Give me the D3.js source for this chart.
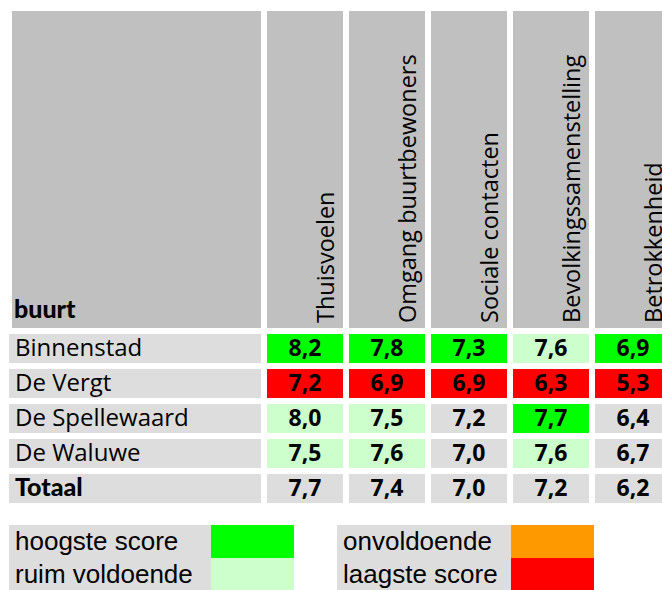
<!DOCTYPE html>
<meta charset="utf-8">
<script src="https://d3js.org/d3.v7.min.js"></script>
<style>
  body { margin: 0; background: #fff; }
  text { font-family: "Open Sans", sans-serif; fill: #000; }
  .vet { font-family: Lato, "Open Sans", sans-serif; font-weight: 900; }
  .legend text { font-family: "Liberation Sans", Arial, sans-serif; }
</style>
<div id="my_dataviz"></div>
<script>
// data
var buurten = ["Binnenstad", "De Vergt", "De Spellewaard", "De Waluwe", "Totaal"];
var thema = ["Thuisvoelen", "Omgang buurtbewoners", "Sociale contacten", "Bevolkingssamenstelling", "Betrokkenheid"];
var scores = [
  [8.2, 7.8, 7.3, 7.6, 6.9],
  [7.2, 6.9, 6.9, 6.3, 5.3],
  [8.0, 7.5, 7.2, 7.7, 6.4],
  [7.5, 7.6, 7.0, 7.6, 6.7],
  [7.7, 7.4, 7.0, 7.2, 6.2]
];
var legendaLinks = ["hoogste score", "ruim voldoende"];
var legendaRechts = ["onvoldoende", "laagste score"];

var kleur = {
  hoog: "#00ff00", ruim: "#ccffcc", onv: "#ff9900", laag: "#ff0000", neutraal: "#dddddd"
};
var legendaKleuren = [kleur.hoog, kleur.ruim, kleur.onv, kleur.laag];

var width = 662, height = 590;

var svg = d3.select("#my_dataviz")
  .append("svg")
    .attr("width", width)
    .attr("height", height);

// scales
var x = d3.scaleBand()
  .domain(thema)
  .range([267, 267 + 82 * thema.length - 6])
  .paddingInner(6 / 82);

var y = d3.scaleBand()
  .domain(buurten)
  .range([334, 334 + 35 * buurten.length - 6])
  .paddingInner(6 / 35);

// class of a cell: max/min per column over the neighbourhoods (not Totaal)
function klasse(r, c) {
  if (buurten[r] === "Totaal") return "neutraal";
  var kol = scores.slice(0, buurten.length - 1).map(function(d) { return d[c]; });
  var v = scores[r][c];
  if (v === d3.max(kol)) return "hoog";
  if (v === d3.min(kol)) return "laag";
  if (v < 5.5) return "onv";
  if (v >= 7.5) return "ruim";
  return "neutraal";
}

// header
svg.append("rect")
  .attr("x", 12).attr("y", 11)
  .attr("width", 249).attr("height", 317)
  .attr("fill", "#c0c0c0");
svg.append("text")
  .attr("class", "vet")
  .attr("x", 14).attr("y", 318)
  .attr("font-size", 25)
  .text("buurt");

var kop = svg.append("g").selectAll("g")
  .data(thema)
  .enter().append("g");
kop.append("rect")
  .attr("x", function(d) { return x(d); })
  .attr("y", 11)
  .attr("width", x.bandwidth())
  .attr("height", 317)
  .attr("fill", "#c0c0c0");
kop.append("text")
  .attr("transform", function(d) {
    return "translate(" + (x(d) + x.bandwidth() - 9) + ",323) rotate(-90)";
  })
  .attr("font-size", 23.5)
  .text(function(d) { return d; });

// rows
var rij = svg.append("g").selectAll("g")
  .data(buurten)
  .enter().append("g");
rij.append("rect")
  .attr("x", 9)
  .attr("y", function(d) { return y(d); })
  .attr("width", 252)
  .attr("height", y.bandwidth())
  .attr("fill", kleur.neutraal);
rij.append("text")
  .attr("class", function(d) { return d === "Totaal" ? "vet" : null; })
  .attr("x", 15)
  .attr("y", function(d) { return y(d) + 22; })
  .attr("font-size", function(d) { return d === "Totaal" ? 25 : 24; })
  .text(function(d) { return d; });

// cells
var cellen = [];
scores.forEach(function(rijData, r) {
  rijData.forEach(function(v, c) {
    cellen.push({ r: r, c: c, v: v, k: klasse(r, c) });
  });
});

var cel = svg.append("g").selectAll("g")
  .data(cellen)
  .enter().append("g");
cel.append("rect")
  .attr("x", function(d) { return x(thema[d.c]); })
  .attr("y", function(d) { return y(buurten[d.r]); })
  .attr("width", x.bandwidth())
  .attr("height", y.bandwidth())
  .attr("fill", function(d) { return kleur[d.k]; });
cel.append("text")
  .attr("x", function(d) { return x(thema[d.c]) + x.bandwidth() / 2; })
  .attr("y", function(d) { return y(buurten[d.r]) + 22; })
  .attr("text-anchor", "middle")
  .attr("font-size", 23)
  .attr("font-weight", "bold")
  .text(function(d) { return d3.format(".1f")(d.v).replace(".", ","); });

// legend
var legenda = svg.append("g").attr("class", "legend");
var blokken = [
  { x: 9, w: 202, labels: legendaLinks, kleuren: legendaKleuren.slice(0, 2) },
  { x: 337, w: 174, labels: legendaRechts, kleuren: legendaKleuren.slice(2, 4) }
];
var ly = d3.scaleBand().domain([0, 1]).range([525, 591]);
blokken.forEach(function(b) {
  b.labels.forEach(function(l, i) {
    legenda.append("rect")
      .attr("x", b.x).attr("y", ly(i))
      .attr("width", b.w).attr("height", ly.bandwidth())
      .attr("fill", kleur.neutraal);
    legenda.append("rect")
      .attr("x", b.x + b.w).attr("y", ly(i))
      .attr("width", 83).attr("height", ly.bandwidth())
      .attr("fill", b.kleuren[i]);
    legenda.append("text")
      .attr("x", b.x + 6).attr("y", ly(i) + 25)
      .attr("font-size", 26)
      .text(l);
  });
});
</script>
